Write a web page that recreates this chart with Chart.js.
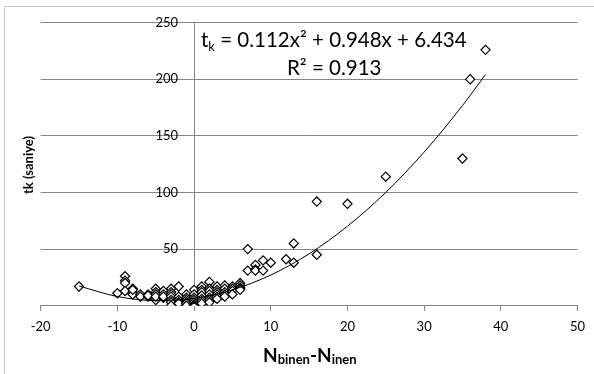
<!DOCTYPE html>
<html>
<head>
<meta charset="utf-8">
<script src="https://cdn.jsdelivr.net/npm/chart.js@4/dist/chart.umd.min.js"></script>
<style>
  html, body { margin: 0; padding: 0; background: #fff; }
  #wrap { width: 594px; height: 374px; position: relative; }
</style>
</head>
<body>
<div id="wrap"><canvas id="c" width="594" height="374"></canvas></div>
<script>
// Observed points (N_binen - N_inen, tk seconds)
const xVals = [
  -15, -10, -9, -9, -9, -9, -8, -8, -8, -8, -7, -7, -6, -6, -6,
  -5, -5, -5, -5, -5, -4, -4, -4, -4,
  -3, -3, -3, -3, -3, -3, -3, -2, -2, -2, -2, -2,
  -1, -1, -1, -1, -1, -1, 0, 0, 0, 0, 0, 0, 0, 0,
  1, 1, 1, 1, 1, 1, 1, 2, 2, 2, 2, 2, 2, 2,
  3, 3, 3, 3, 3, 3, 4, 4, 4, 4, 4, 5, 5, 5, 5,
  6, 6, 6, 6, 6, 7, 7, 8, 8, 8, 9, 9, 10, 12, 13, 13,
  16, 16, 20, 25, 35, 36, 38
];
const yVals = [
  17, 11, 26, 22, 20, 13, 15, 12, 10, 14, 10, 8, 10, 8, 9,
  15, 12, 10, 5, 8, 13, 10, 7, 8,
  15, 12, 10, 8, 5, 3, 0, 17, 8, 5, 3, 2,
  10, 7, 5, 3, 2, 0, 14, 10, 7, 5, 3, 1, 0, -1,
  17, 14, 12, 9, 6, 4, 2, 21, 15, 13, 10, 7, 5, 3,
  17, 14, 12, 10, 8, 6, 18, 15, 12, 10, 8, 17, 15, 13, 10,
  20, 18, 16, 15, 14, 50, 31, 36, 32, 31, 40, 31, 38, 41, 55, 38,
  92, 45, 90, 114, 130, 200, 226
];
// Trendline points
const trendX = [-15, -10, -5, 0, 5, 10, 15, 20, 25, 30, 35, 38];
const trendY = [17.4, 8.1, 4.5, 6.4, 14.0, 27.1, 45.8, 70.2, 100.1, 135.7, 176.8, 204.2];
// Axis ticks
const xTicks = [-20, -10, 0, 10, 20, 30, 40, 50];
const yTicks = [0, 50, 100, 150, 200, 250];

const FONT = 'Lato, "Open Sans", sans-serif';
const GRID = '#868686';

const points = xVals.map((x, i) => ({x: x, y: yVals[i]}));
const trend = trendX.map((x, i) => ({x: x, y: trendY[i]}));

const textPlugin = {
  id: 'texts',
  beforeDraw(chart) {
    const ctx = chart.ctx;
    ctx.save();
    ctx.fillStyle = '#fff';
    ctx.fillRect(0, 0, chart.width, chart.height);
    ctx.strokeStyle = '#c8c8c8';
    ctx.lineWidth = 1;
    ctx.beginPath();
    ctx.moveTo(4.5, 374);
    ctx.lineTo(4.5, 6.5);
    ctx.lineTo(594, 6.5);
    ctx.stroke();
    ctx.restore();
  },
  afterDraw(chart) {
    const ctx = chart.ctx;
    const ys = chart.scales.y, xs = chart.scales.x;
    ctx.save();
    ctx.fillStyle = '#000';
    // Y tick labels, next to the axis at x = 0
    ctx.font = '13px ' + FONT;
    ctx.textAlign = 'right';
    ctx.textBaseline = 'middle';
    const ax = xs.getPixelForValue(0);
    yTicks.forEach(v => { if (v !== 0) ctx.fillText(String(v), ax - 16, ys.getPixelForValue(v)); });

    ctx.textBaseline = 'alphabetic';
    ctx.textAlign = 'left';
    // Equation
    let x = 201, y = 47;
    const seg = (t, f, dy) => { ctx.font = f; ctx.fillText(t, x, y + (dy || 0)); x += ctx.measureText(t).width; };
    seg('t', '20.5px ' + FONT);
    seg('k', '13px ' + FONT, 4);
    seg(' = 0.112x² + 0.948x + 6.434', '20.5px ' + FONT);
    x = 287; y = 75;
    seg('R² = 0.913', '20.5px ' + FONT);
    // X title
    x = 263; y = 362;
    seg('N', 'bold 19px ' + FONT);
    seg('binen', 'bold 13px ' + FONT, 2);
    seg('-N', 'bold 19px ' + FONT);
    seg('inen', 'bold 13px ' + FONT, 2);
    // Y title
    ctx.translate(33, 165);
    ctx.rotate(-Math.PI / 2);
    ctx.textAlign = 'center';
    ctx.font = 'bold 13px ' + FONT;
    ctx.fillText('tk (saniye)', 0, 0);
    ctx.restore();
  }
};

new Chart(document.getElementById('c'), {
  type: 'scatter',
  data: {
    datasets: [
      {
        type: 'line',
        label: 'trend',
        data: trend,
        borderColor: '#000',
        borderWidth: 1,
        pointRadius: 0,
        fill: false,
        cubicInterpolationMode: 'monotone',
        order: 0
      },
      {
        label: 'tk',
        data: points,
        pointStyle: 'rectRot',
        pointRadius: 4.6,
        pointBorderWidth: 1.2,
        pointBackgroundColor: '#fff',
        pointBorderColor: '#000',
        order: 1
      }
    ]
  },
  plugins: [textPlugin],
  options: {
    responsive: false,
    devicePixelRatio: 1,
    animation: false,
    layout: { padding: { left: 40.7, right: 16.5, top: 22.7, bottom: 68.3 } },
    plugins: { legend: { display: false }, tooltip: { enabled: false } },
    scales: {
      x: {
        type: 'linear',
        position: { y: 0 },
        min: xTicks[0],
        max: xTicks[xTicks.length - 1],
        afterBuildTicks: (s) => { s.ticks = xTicks.map(v => ({value: v})); },
        ticks: { font: { family: FONT, size: 13 }, color: '#000', padding: 8 },
        grid: { drawOnChartArea: false, drawTicks: true, tickLength: 5, color: GRID },
        border: { display: true, color: GRID, width: 1 }
      },
      y: {
        type: 'linear',
        position: { x: 0 },
        min: yTicks[0],
        max: yTicks[yTicks.length - 1],
        afterBuildTicks: (s) => { s.ticks = yTicks.map(v => ({value: v})); },
        ticks: { display: false },
        grid: { drawTicks: true, tickLength: 5, color: GRID },
        border: { display: true, color: GRID, width: 1 }
      }
    }
  }
});
</script>
</body>
</html>
